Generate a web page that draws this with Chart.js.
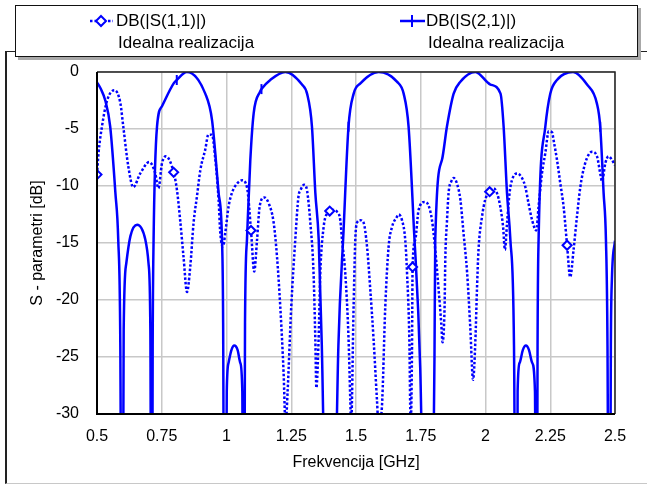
<!DOCTYPE html>
<html>
<head>
<meta charset="utf-8">
<script src="https://cdn.jsdelivr.net/npm/chart.js@4.4.0/dist/chart.umd.min.js"></script>
<style>
  body { margin: 0; background: #fff; }
  #wrap { position: relative; width: 647px; height: 486px; overflow: hidden; font-family: "Liberation Sans", Arial, sans-serif; }
  #frame { position: absolute; left: 5px; top: 51px; width: 700px; height: 431px; border-left: 2px solid #222; border-top: 1px solid #222; border-bottom: 1px solid #c8c8c8; }
  #chart { position: absolute; left: 0; top: 0; }
  #legend { position: absolute; left: 15px; top: 5px; width: 621px; height: 50px; border: 1px solid #111; background: #fff; box-shadow: 3px 3px 0 #a8a8a8; }
  .item { position: absolute; top: 4px; font-size: 17px; line-height: 22px; color: #000; white-space: nowrap; }
  .item span { padding-left: 2px; }
  .sym { position: absolute; top: 8px; }
</style>
</head>
<body>
<div id="wrap">
  <div id="frame"></div>
  <canvas id="chart" width="647" height="486"></canvas>
  <div id="legend">
    <svg class="sym" style="left:74px" width="23" height="14">
      <line x1="0" y1="7" x2="23" y2="7" stroke="#0000ff" stroke-width="2.5" stroke-dasharray="2.5,2"/>
      <path d="M11 2 L16 7 L11 12 L6 7 Z" fill="#fff" stroke="#0000ff" stroke-width="2"/>
    </svg>
    <div class="item" style="left:100px">DB(|S(1,1)|)<br><span>Idealna realizacija</span></div>
    <svg class="sym" style="left:384px" width="25" height="14">
      <line x1="0" y1="7" x2="25" y2="7" stroke="#0000ff" stroke-width="2.5"/>
      <line x1="12" y1="1" x2="12" y2="13" stroke="#0000ff" stroke-width="2"/>
    </svg>
    <div class="item" style="left:410px">DB(|S(2,1)|)<br><span>Idealna realizacija</span></div>
  </div>
</div>
<script>
// S11 (dotted) - frequency [GHz] and level [dB]
const freqS11 = [0.500, 0.506, 0.519, 0.539, 0.567, 0.590, 0.6015, 0.621, 0.640, 0.667, 0.702, 0.725, 0.737, 0.751, 0.766,
  0.796, 0.809, 0.822, 0.834, 0.8475, 0.860, 0.873, 0.886, 0.899, 0.918, 0.930, 0.944, 0.957, 0.9695, 0.976, 0.9865,
  0.9954, 1.008, 1.021, 1.0405, 1.060, 1.079, 1.0946, 1.107, 1.118, 1.128, 1.146, 1.1625, 1.182, 1.195, 1.2077, 1.2205,
  1.228, 1.236, 1.250, 1.2656, 1.278, 1.285, 1.300, 1.311, 1.3236, 1.336, 1.343, 1.347, 1.3555, 1.362, 1.375, 1.388,
  1.3985, 1.4073, 1.4266, 1.4394, 1.446, 1.4587, 1.4714, 1.478, 1.481, 1.4907, 1.4973, 1.504, 1.5166, 1.529, 1.5425,
  1.5552, 1.568, 1.581, 1.587, 1.600, 1.613, 1.626, 1.639, 1.658, 1.6645, 1.6776, 1.690, 1.697, 1.706, 1.711, 1.716,
  1.7185, 1.729, 1.7417, 1.765, 1.780, 1.7934, 1.806, 1.819, 1.829, 1.834, 1.842, 1.845, 1.851, 1.8575, 1.868, 1.877,
  1.890, 1.903, 1.915, 1.929, 1.941, 1.952, 1.961, 1.967, 1.973, 1.9865, 1.999, 2.016, 2.031, 2.044, 2.057, 2.068,
  2.075, 2.083, 2.093, 2.102, 2.122, 2.141, 2.154, 2.166, 2.180, 2.196, 2.205, 2.218, 2.231, 2.244, 2.257, 2.263,
  2.276, 2.289, 2.3015, 2.315, 2.327, 2.340, 2.353, 2.366, 2.385, 2.411, 2.4305, 2.443, 2.450, 2.4626, 2.475, 2.488, 2.500];
const dbS11 = [-9.0, -7.1, -4.8, -2.5, -1.6, -2.7, -4.8, -8.3, -10.1, -8.9, -7.9, -8.9, -10.2, -8.0, -7.4,
  -8.8, -10.4, -13.2, -16.2, -19.3, -17.1, -13.2, -10.9, -8.6, -6.8, -5.5, -5.5, -7.7, -11.2, -14.1, -15.3,
  -14.1, -11.8, -10.6, -9.8, -9.5, -10.1, -13.9, -17.5, -14.7, -11.8, -11.0, -11.5, -13.2, -16.2, -20.6, -26.4,
  -31, -28, -20.6, -14.7, -10.9, -10.4, -9.9, -10.4, -13.2, -17.6, -23.5, -27.7, -23.5, -17.7, -13.6, -12.4,
  -12.2, -12.1, -12.25, -13.0, -14.7, -17.7, -23.5, -28.8, -31, -20.6, -14.7, -13.2, -13.0, -13.2, -15.3,
  -19.1, -23.5, -28.8, -31, -29.4, -20.6, -15.3, -13.6, -12.7, -12.5, -13.0, -14.7, -17.6, -23.5, -31, -25,
  -17.1, -14.7, -12.1, -11.4, -11.7, -13.0, -15.6, -19.1, -22.0, -23.7, -20.6, -16.2, -13.2, -10.6, -9.6, -9.3,
  -9.8, -11.2, -14.1, -17.6, -22.3, -27.0, -23.5, -19.1, -15.6, -12.7, -11.2, -10.5, -10.2, -10.6, -11.8, -13.6,
  -15.6, -13.3, -10.6, -9.5, -8.9, -9.3, -10.1, -11.5, -13.0, -13.9, -11.8, -8.9, -7.1, -5.2, -5.3, -6.0,
  -7.7, -9.8, -11.8, -15.2, -18.0, -15.6, -12.7, -10.1, -8.0, -7.0, -7.4, -8.9, -9.6, -8.0, -7.4, -7.7, -8.2];

// S21 (solid) - frequency [GHz] and level [dB]
const freqS21 = [0.500, 0.515, 0.532, 0.551, 0.571, 0.582, 0.590, 0.597, 0.603, 0.613, 0.629, 0.655, 0.6865, 0.699,
  0.706, 0.711, 0.715, 0.7185, 0.7317, 0.751, 0.796, 0.808, 0.847, 0.918, 0.944, 0.9695, 0.9826, 0.987, 0.993,
  1.001, 1.008, 1.019, 1.030, 1.043, 1.053, 1.061, 1.066, 1.0715, 1.079, 1.092, 1.105, 1.130, 1.135, 1.169, 1.227,
  1.2915, 1.311, 1.330, 1.343, 1.356, 1.368, 1.400, 1.432, 1.452, 1.471, 1.491, 1.517, 1.587, 1.658, 1.684, 1.703,
  1.722, 1.748, 1.778, 1.803, 1.806, 1.832, 1.851, 1.877, 1.903, 1.961, 2.019, 2.058, 2.070, 2.083, 2.096, 2.110,
  2.120, 2.124, 2.132, 2.144, 2.156, 2.168, 2.180, 2.191, 2.197, 2.201, 2.205, 2.231, 2.250, 2.276, 2.338, 2.392,
  2.430, 2.443, 2.456, 2.465, 2.471, 2.478, 2.484, 2.488, 2.500];
const dbS21 = [-0.9, -1.5, -2.5, -4.8, -10.6, -14.7, -24, -60, -22.6, -16.8, -14.4, -13.4, -14.7, -16.8,
  -22.6, -60, -24, -14.7, -4.8, -3.0, -1.0, -0.7, 0, -1.9, -4.2, -10.6, -14.7, -22, -60,
  -28, -25.5, -24.4, -24.0, -24.4, -25.5, -28, -60, -22, -14.7, -7.7, -3.6, -1.7, -1.5, -0.7, 0,
  -1.1, -1.9, -4.8, -10.6, -14.7, -24, -60, -24, -13.9, -4.8, -1.9, -1.0, 0, -0.85, -1.9, -4.8,
  -13.0, -26, -60, -25, -14.7, -7.7, -4.8, -1.9, -0.85, 0, -1.1, -1.9, -4.8, -10.6, -14.7, -24,
  -60, -28, -25.5, -24.4, -24.0, -24.4, -25.5, -28, -60, -24, -14.7, -4.8, -1.9, -0.7, 0, -1.1,
  -2.75, -4.8, -10.6, -14.7, -24, -60, -24, -18.2, -14.8];

// marker positions (frequencies that carry a symbol)
const markS11 = [0.500, 0.796, 1.0946, 1.3985, 1.7185, 2.016, 2.315];
const markS21 = [0.808, 1.135, 1.471, 2.443];

const xTicks = [0.5, 0.75, 1, 1.25, 1.5, 1.75, 2, 2.25, 2.5];
const yTicks = [0, -5, -10, -15, -20, -25, -30];

const blue = "#0000ff";
const fam = "'Liberation Sans', Arial, sans-serif";

const toPoints = (f, d) => f.map((x, i) => ({ x: x, y: d[i] }));

// black frame around the plot area
const plotFrame = {
    id: "plotFrame",
    afterDatasetsDraw(chart) {
        const { ctx, chartArea: a } = chart;
        ctx.save();
        ctx.strokeStyle = "#222";
        ctx.lineWidth = 1.5;
        ctx.beginPath();
        ctx.moveTo(a.left, a.top);
        ctx.lineTo(a.right, a.top);
        ctx.lineTo(a.right, a.bottom);
        ctx.stroke();
        ctx.strokeStyle = "#000";
        ctx.lineWidth = 2;
        ctx.beginPath();
        ctx.moveTo(a.left, a.top);
        ctx.lineTo(a.left, a.bottom);
        ctx.lineTo(a.right, a.bottom);
        ctx.stroke();
        ctx.restore();
    }
};

new Chart(document.getElementById("chart").getContext("2d"), {
    type: "line",
    data: {
        datasets: [
            {
                label: "DB(|S(1,1)|)",
                data: toPoints(freqS11, dbS11),
                borderColor: blue,
                borderWidth: 2.5,
                borderDash: [2.5, 2],
                cubicInterpolationMode: "monotone",
                pointStyle: "rectRot",
                pointRadius: ctx => markS11.includes(freqS11[ctx.dataIndex]) ? 4.5 : 0,
                pointBackgroundColor: "#fff",
                pointBorderColor: blue,
                pointBorderWidth: 2,
                fill: false
            },
            {
                label: "DB(|S(2,1)|)",
                data: toPoints(freqS21, dbS21),
                borderColor: blue,
                borderWidth: 2.5,
                cubicInterpolationMode: "monotone",
                pointStyle: "line",
                rotation: 90,
                pointRadius: ctx => markS21.includes(freqS21[ctx.dataIndex]) ? 5 : 0,
                pointBorderColor: blue,
                pointBorderWidth: 2,
                fill: false
            }
        ]
    },
    options: {
        responsive: false,
        animation: false,
        layout: { padding: { left: 0, right: 32, top: 72, bottom: 12 } },
        plugins: {
            legend: { display: false },
            tooltip: { enabled: false }
        },
        scales: {
            x: {
                type: "linear",
                min: 0.5,
                max: 2.5,
                afterBuildTicks: s => { s.ticks = xTicks.map(v => ({ value: v })); },
                afterFit: s => { s.height = 60; },
                ticks: { padding: 13, color: "#000", font: { family: fam, size: 16 }, callback: v => String(v) },
                grid: { color: "#c8c8c8", lineWidth: 1.5, drawTicks: false },
                border: { display: false },
                title: { display: true, text: "Frekvencija [GHz]", color: "#000", font: { family: fam, size: 16 }, padding: { top: 0, bottom: 2 } }
            },
            y: {
                min: -30,
                max: 0,
                afterBuildTicks: s => { s.ticks = yTicks.map(v => ({ value: v })); },
                afterFit: s => { s.width = 97; },
                ticks: { padding: 18, color: "#000", font: { family: fam, size: 16 }, callback: v => String(v) },
                grid: { color: "#c8c8c8", lineWidth: 1.5, drawTicks: false },
                border: { display: false },
                title: { display: true, text: "S - parametri [dB]", color: "#000", font: { family: fam, size: 16 }, padding: { top: 28, bottom: 0 } }
            }
        }
    },
    plugins: [plotFrame]
});
</script>
</body>
</html>
